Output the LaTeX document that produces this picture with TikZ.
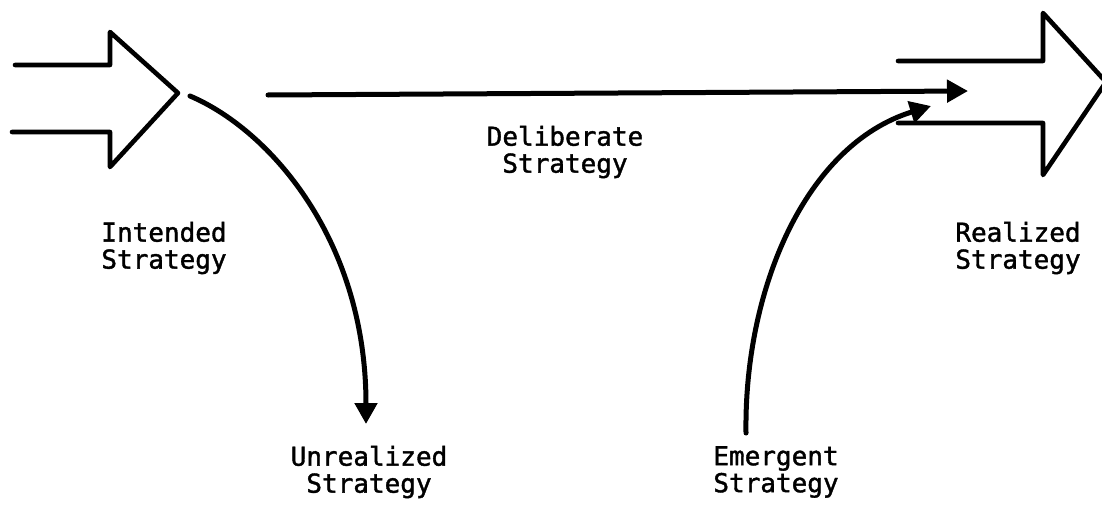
\documentclass[tikz,border=0pt]{standalone}
\usepackage{fontspec}
\setmonofont[FakeBold=1.5]{DejaVu Sans Mono}
\usepackage{tikz}
\usetikzlibrary{arrows.meta,positioning}
\tikzstyle{strat} = [align=center, inner sep=0pt, font=\ttfamily\fontsize{26}{27}\selectfont]
\tikzstyle{outline} = [line width=4.6pt, line join=round, line cap=round]
\tikzstyle{flow} = [line width=5pt, line cap=round, -{Triangle[length=21pt,width=22pt]}]

\begin{document}
\begin{tikzpicture}[x=1pt, y=-1pt]
    \useasboundingbox (0,0) rectangle (1102,506);

    \draw[outline] (15,65) -- (110,65) -- (110,32) -- (178,93) -- (110,167) -- (110,132) -- (12,132);
    \draw[outline] (898,61) -- (1043,61) -- (1043,13) -- (1106,82) -- (1043,175) -- (1043,123) -- (898,123);

    \node[strat] (intended) at (164,248) {Intended\\Strategy};
    \node[strat] (deliberate) at (565,152) {Deliberate\\Strategy};
    \node[strat] (realized) at (1018,248) {Realized\\Strategy};
    \node[strat] (unrealized) at (369,472) {Unrealized\\Strategy};
    \node[strat] (emergent) at (776,472) {Emergent\\Strategy};

    \coordinate (intendtip) at (190,96);
    \coordinate (dropped) at (366,424);
    \coordinate (delstart) at (268,95);
    \coordinate (delend) at (968,91);
    \coordinate (emstart) at (746,433);
    \coordinate (emend) at (931,106);

    \draw[flow] (delstart) -- (delend);
    \draw[flow] (intendtip) .. controls (270,130) and (366,240) .. (dropped);
    \draw[flow] (emstart) .. controls (744,290) and (805,145) .. (emend);
\end{tikzpicture}
\end{document}
